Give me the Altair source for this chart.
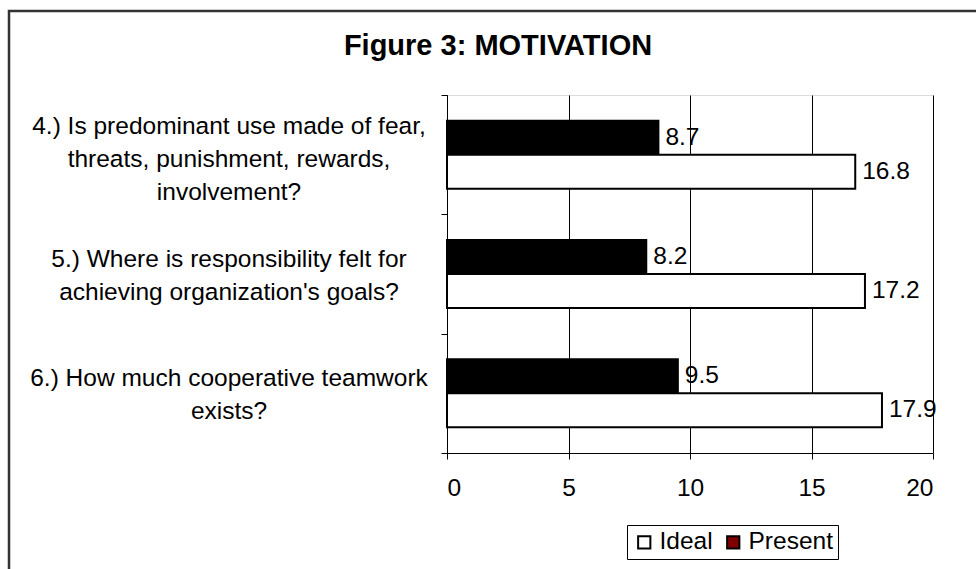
import altair as alt
import pandas as pd

title_text = "Figure 3: MOTIVATION"
category_lines = [
    ["4.) Is predominant use made of fear,", "threats, punishment, rewards,", "involvement?"],
    ["5.) Where is responsibility felt for", "achieving organization's goals?"],
    ["6.) How much cooperative teamwork", "exists?"],
]
categories = ["|".join(lines) for lines in category_lines]
series = ["Present", "Ideal"]
present_values = [8.7, 8.2, 9.5]
ideal_values = [16.8, 17.2, 17.9]
x_ticks = [0, 5, 10, 15, 20]

rows = []
for c, p, i in zip(categories, present_values, ideal_values):
    rows.append({"question": c, "series": "Present", "value": p})
    rows.append({"question": c, "series": "Ideal", "value": i})
df = pd.DataFrame(rows)
qdf = pd.DataFrame({"question": categories})

FONT = "Liberation Sans"
FS = 24.5

y_enc = alt.Y(
    "question:N",
    sort=categories,
    scale=alt.Scale(paddingInner=0, paddingOuter=0),
    axis=alt.Axis(
        title=None,
        labels=False,
        tickBand="extent",
        tickSize=6,
        tickColor="black",
        domainColor="black",
        domainWidth=1,
        grid=False,
    ),
)
yoff = alt.YOffset(
    "series:N",
    sort=series,
    scale=alt.Scale(domain=series, paddingInner=0, paddingOuter=0.754),
)
x_enc = alt.X(
    "value:Q",
    scale=alt.Scale(domain=[0, 20], nice=False),
    axis=alt.Axis(
        title=None,
        values=x_ticks,
        labelFontSize=FS,
        labelFont=FONT,
        labelColor="black",
        labelPadding=17,
        tickSize=6,
        tickColor="black",
        domainColor="black",
        grid=True,
        gridColor="black",
        gridWidth=1,
    ),
)

frame = alt.Chart(alt.Data(values=[{"k": 1}])).mark_rect(
    fillOpacity=0, stroke="#333333", strokeWidth=2.5
).encode(
    x=alt.value(-438), x2=alt.value(620), y=alt.value(-84), y2=alt.value(520)
)

title = alt.Chart(alt.Data(values=[{"t": title_text}])).mark_text(
    font=FONT, fontSize=29, fontWeight="bold", color="black",
    align="center", baseline="alphabetic",
).encode(
    text="t:N", x=alt.value(51), y=alt.value(-40)
)

bars = alt.Chart(df).mark_bar(stroke="black", strokeWidth=2).encode(
    x=x_enc,
    y=y_enc,
    yOffset=yoff,
    fill=alt.condition(alt.datum.series == "Present", alt.value("black"), alt.value("white")),
)


def question_labels(n_lines, shift):
    return alt.Chart(qdf).transform_calculate(
        n="length(split(datum.question, '|'))"
    ).transform_filter(
        alt.datum.n == n_lines
    ).mark_text(
        align="center", baseline="middle", lineBreak="|", lineHeight=33,
        fontSize=FS, font=FONT, color="black", dy=shift,
    ).encode(
        x=alt.value(-218),
        y=alt.Y("question:N", sort=categories),
        text="question:N",
    )


qlabels3 = question_labels(3, -28)
qlabels2 = question_labels(2, -14)

labels = alt.Chart(df).mark_text(
    align="left", baseline="middle", dx=7, fontSize=FS, font=FONT, color="black"
).encode(
    x="value:Q",
    y=alt.Y("question:N", sort=categories),
    yOffset=alt.YOffset("series:N", sort=series),
    text=alt.Text("value:Q", format=".1f"),
)

legend_layer = alt.Chart(df).mark_square(size=0, filled=True).encode(
    x="value:Q",
    y=alt.Y("question:N", sort=categories),
    color=alt.Color(
        "series:N",
        scale=alt.Scale(domain=["Ideal", "Present"], range=["white", "#800000"]),
        legend=alt.Legend(
            title=None,
            orient="none",
            legendX=180,
            legendY=430,
            direction="horizontal",
            symbolType="square",
            symbolSize=150,
            symbolStrokeColor="black",
            symbolStrokeWidth=2,
            symbolOpacity=1,
            labelFontSize=FS,
            labelFont=FONT,
            labelColor="black",
            labelOffset=3,
            columnPadding=8,
            padding=5,
            strokeColor="black",
            fillColor="white",
        ),
    ),
)

chart = alt.layer(bars, frame, title, qlabels3, qlabels2, labels, legend_layer).properties(
    width=486,
    height=358,
    padding={"left": 447, "top": 95, "right": 43, "bottom": 116},
    autosize=alt.AutoSizeParams(type="none"),
).configure_view(
    fill="#c0c0c0", stroke="#808080", strokeWidth=2
).configure(background="white")

chart.save("out.html", embed_options={"renderer": "svg", "actions": False})
